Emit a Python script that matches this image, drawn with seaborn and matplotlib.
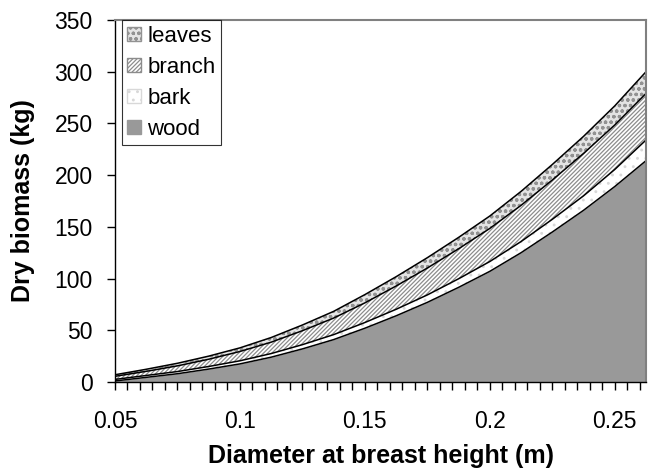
import numpy as np
import pandas as pd
import matplotlib
matplotlib.use("Agg")
import matplotlib.pyplot as plt
import seaborn as sns
from matplotlib.patches import Patch
from matplotlib.ticker import MultipleLocator

# datos (kg por componente)
dbh = [0.05, 0.0625, 0.075, 0.0875, 0.1, 0.1125, 0.125, 0.1375, 0.15,
       0.1625, 0.175, 0.1875, 0.2, 0.2125, 0.225, 0.2375, 0.25, 0.2625]
wood = [1, 4.5, 8, 12.5, 17.5, 24, 32, 41, 52, 64, 77, 91.5, 107, 125, 145, 166, 189, 214]
bark = [1.5, 1.8, 2.1, 2.5, 3, 3.5, 4.1, 4.8, 5.5, 6.3, 7.2, 8.3, 9.5, 10.8, 12.3, 14, 16.5, 20]
branch = [3, 4, 5.5, 7, 9, 11, 13.5, 16, 19, 22.5, 26, 29, 32, 35, 38, 41, 43, 45]
leaves = [1.5, 2, 2.5, 3, 3.5, 4.5, 5.5, 6.5, 8, 9, 10, 11, 12, 13.5, 15, 16.5, 18.5, 21]

df = pd.DataFrame({"dbh": dbh, "wood": wood, "bark": bark, "branch": branch, "leaves": leaves})
df["t_wood"] = df["wood"]
df["t_bark"] = df["t_wood"] + df["bark"]
df["t_branch"] = df["t_bark"] + df["branch"]
df["t_leaves"] = df["t_branch"] + df["leaves"]

sns.set_theme(style="white")
plt.rcParams["font.family"] = ["Liberation Sans", "DejaVu Sans"]
plt.rcParams["hatch.linewidth"] = 0.9
plt.rcParams["text.color"] = "black"
plt.rcParams["axes.labelcolor"] = "black"

fig = plt.figure(figsize=(6.56, 4.75), dpi=100)
ax = fig.add_axes([0.1753, 0.1958, 0.8095, 0.7621])

capas = [
    ("leaves", "t_branch", "t_leaves", "#e4e4e4", "ooo", "#929292"),
    ("branch", "t_bark", "t_branch", "white", "////////", "#8c8c8c"),
    ("bark", "t_wood", "t_bark", "white", "..", "#d8d8d8"),
    ("wood", None, "t_wood", "#999999", None, "#999999"),
]
handles = []
for nombre, abajo, arriba, color, hatch, hcol in capas:
    y0 = 0 if abajo is None else df[abajo]
    ax.fill_between(df["dbh"], y0, df[arriba], facecolor=color, hatch=hatch,
                    edgecolor=hcol, linewidth=0)
    handles.append(Patch(facecolor=color, hatch=hatch, edgecolor=hcol, label=nombre))

for col in ["t_wood", "t_bark", "t_branch", "t_leaves"]:
    sns.lineplot(data=df, x="dbh", y=col, color="black", linewidth=1.1, ax=ax)

ax.set_xlim(0.05, 0.2625)
ax.set_ylim(0, 350)
ax.xaxis.set_minor_locator(MultipleLocator(0.005))
ax.yaxis.set_major_locator(MultipleLocator(50))
ax.set_xticks([0.05, 0.1, 0.15, 0.2, 0.25])
ax.set_xticklabels(["0.05", "0.1", "0.15", "0.2", "0.25"])
ax.tick_params(axis="both", which="both", direction="out", length=6, width=1,
               color="black", labelcolor="black", labelsize=16.5, bottom=True, left=True)
ax.tick_params(axis="x", pad=14)
ax.tick_params(axis="y", pad=10)

for lado in ["left", "bottom"]:
    ax.spines[lado].set_color("black")
    ax.spines[lado].set_linewidth(1)
for lado in ["top", "right"]:
    ax.spines[lado].set_color("#808080")
    ax.spines[lado].set_linewidth(1.5)

ax.set_xlabel("Diameter at breast height (m)", fontsize=18, fontweight="bold", labelpad=8)
ax.set_ylabel("Dry biomass (kg)", fontsize=18, fontweight="bold", labelpad=14)

leg = ax.legend(handles=handles, loc="upper left", bbox_to_anchor=(0.013, 1.0),
                fontsize=16, frameon=True, fancybox=False, handlelength=0.6,
                handleheight=0.6, handletextpad=0.3, borderpad=0.25,
                labelspacing=0.45, borderaxespad=0)
leg.get_frame().set_edgecolor("black")
leg.get_frame().set_linewidth(0.8)

fig.savefig("out.png", dpi=100)
